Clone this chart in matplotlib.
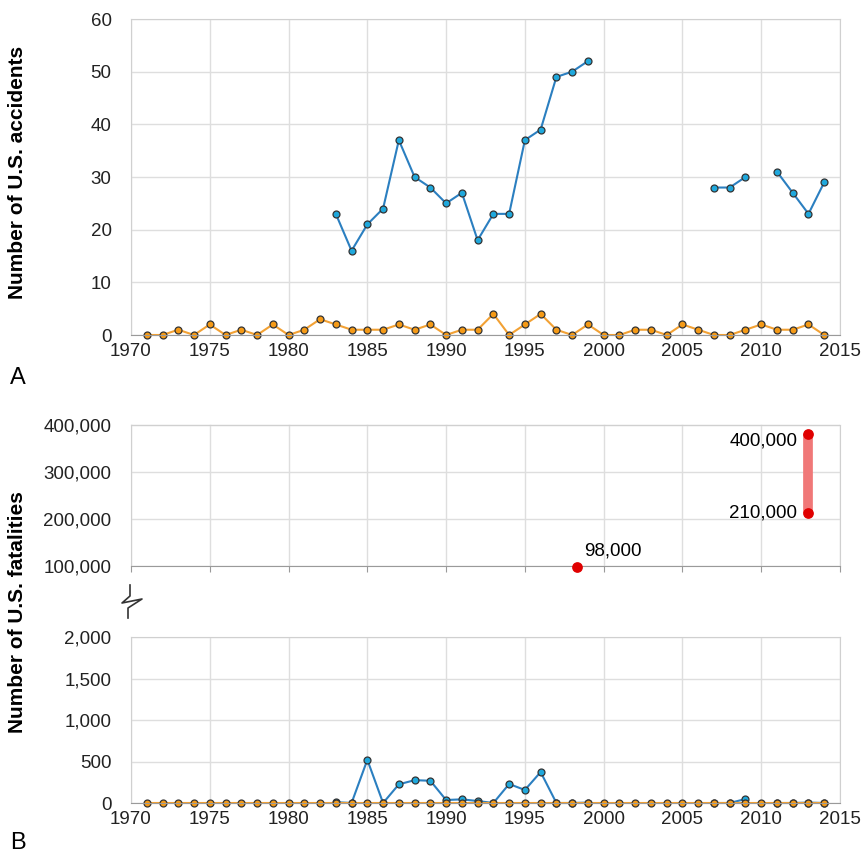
import numpy as np
import matplotlib.pyplot as plt
from matplotlib.lines import Line2D
from matplotlib.ticker import FuncFormatter

# ---- data ----
years = list(range(1971, 2015))
nan = np.nan

# panel A: accidents
acc_blue = [nan]*12 + [23, 16, 21, 24, 37, 30, 28, 25, 27, 18, 23, 23, 37, 39, 49, 50, 52] \
    + [nan]*7 + [28, 28, 30, nan, 31, 27, 23, 29]
acc_orange = [0, 0, 1, 0, 2, 0, 1, 0, 2, 0, 1, 3, 2, 1, 1, 1, 2, 1, 2, 0, 1, 1, 4, 0,
              2, 4, 1, 0, 2, 0, 0, 1, 1, 0, 2, 1, 0, 0, 1, 2, 1, 1, 2, 0]

# panel B: fatalities
fat_blue = [nan]*12 + [10, 0, 520, 0, 225, 275, 268, 36, 44, 24, 0, 229, 157, 373, 0, 0, 5] \
    + [nan]*7 + [0, 0, 48, nan, 0, 0, 5, 0]
fat_orange = [0]*len(years)

# estimates (upper, broken axis)
est_years = [1998.3, 2013, 2013]
est_values = [98000, 380000, 213000]
est_labels = ["98,000", "400,000", "210,000"]

blue_line = "#2b7fc0"
blue_face = "#1fa8dc"
orange_line = "#f2a134"
orange_face = "#f59a16"
edge = "#333333"
grid_c = "#dedede"
tick_fs = 13.5

plt.rcParams['font.family'] = ['Liberation Sans', 'DejaVu Sans']
plt.rcParams['font.size'] = tick_fs

fig = plt.figure(figsize=(8.62, 8.55), dpi=100)
W, H = 862, 855


def ax_px(x0, y0, x1, y1):
    return fig.add_axes([x0 / W, 1 - y1 / H, (x1 - x0) / W, (y1 - y0) / H])


def style(ax, ticklen=0):
    ax.set_xlim(1970, 2015)
    ax.set_xticks(range(1970, 2016, 5))
    ax.grid(True, color=grid_c, lw=1)
    ax.set_axisbelow(True)
    for s in ['left', 'top', 'right']:
        ax.spines[s].set_color("#d0d0d0")
    ax.spines['bottom'].set_color("#9a9a9a")
    ax.tick_params(axis='y', length=0, pad=14, labelsize=tick_fs, colors="#222222")
    ax.tick_params(axis='x', length=ticklen, color="#9a9a9a", pad=6,
                   labelsize=tick_fs, colors="#222222")


mk = dict(marker='o', markersize=5, markeredgecolor=edge, markeredgewidth=0.9)

# ---- panel A ----
axA = ax_px(131, 19, 840, 335)
style(axA)
axA.set_ylim(0, 60)
axA.set_yticks(range(0, 61, 10))
axA.plot(years, acc_blue, color=blue_line, lw=1.5, markerfacecolor=blue_face, **mk, clip_on=False)
axA.plot(years, acc_orange, color=orange_line, lw=1.5, markerfacecolor=orange_face, **mk, clip_on=False)
fig.text(18 / W, 1 - 172 / H, "Number of U.S. accidents", rotation=90, ha='center', va='center',
         fontsize=15, fontweight='bold')
fig.text(10 / W, 1 - 378 / H, "A", fontsize=17, va='center')

comma = FuncFormatter(lambda v, p: f"{int(v):,}")

# ---- panel B upper (estimates) ----
axM = ax_px(131, 424.5, 840, 566)
style(axM, ticklen=4)
axM.set_ylim(100000, 400000)
axM.set_yticks(range(100000, 400001, 100000))
axM.yaxis.set_major_formatter(comma)
axM.tick_params(axis='x', labelbottom=False)
axM.plot(est_years[1:], est_values[1:], color="#f07878", lw=7, solid_capstyle='butt', zorder=2)
axM.scatter(est_years, est_values, s=45, color="#e00000", zorder=3, clip_on=False)
axM.annotate(est_labels[0], (est_years[0], est_values[0]), xytext=(5, 5), textcoords='offset points',
             fontsize=tick_fs, ha='left', va='bottom', annotation_clip=False)
for x, y, t in zip(est_years[1:], est_values[1:], est_labels[1:]):
    axM.annotate(t, (x, y), xytext=(-8, -5 if y > 300000 else 0), textcoords='offset points',
                 fontsize=tick_fs, ha='right', va='center', annotation_clip=False)

# ---- panel B lower ----
axB = ax_px(131, 637, 840, 803)
style(axB)
axB.set_ylim(0, 2000)
axB.set_yticks(range(0, 2001, 500))
axB.yaxis.set_major_formatter(comma)
axB.plot(years, fat_blue, color=blue_line, lw=1.5, markerfacecolor=blue_face, **mk, clip_on=False)
axB.plot(years, fat_orange, color=orange_line, lw=1.5, markerfacecolor=orange_face, **mk, clip_on=False)

fig.text(18 / W, 1 - 612 / H, "Number of U.S. fatalities", rotation=90, ha='center', va='center',
         fontsize=15, fontweight='bold')
fig.text(10 / W, 1 - 843 / H, "B", fontsize=17, va='center')

# axis break symbol
bx = [130, 130, 122, 142, 128, 128]
by = [585, 596, 603, 599, 608, 618]
fig.add_artist(Line2D([x / W for x in bx], [1 - y / H for y in by], color="#333333", lw=1.2))

fig.savefig("out.png", dpi=100)
